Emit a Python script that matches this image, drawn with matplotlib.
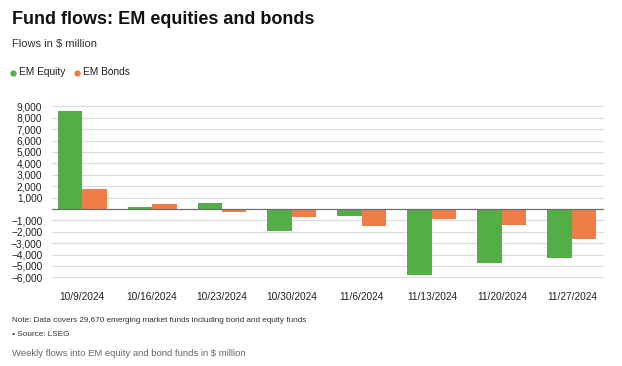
import numpy as np
import matplotlib.pyplot as plt
from matplotlib.ticker import FuncFormatter
from matplotlib.lines import Line2D

plt.rcParams['font.family'] = ['Liberation Sans', 'DejaVu Sans']

# Weekly flows in $ million
weeks = ['10/9/2024', '10/16/2024', '10/23/2024', '10/30/2024',
         '11/6/2024', '11/13/2024', '11/20/2024', '11/27/2024']
em_equity = [8600, 200, 550, -1900, -590, -5830, -4720, -4310]
em_bonds = [1770, 440, -300, -730, -1520, -910, -1430, -2620]
yticks = [-6000, -5000, -4000, -3000, -2000, -1000,
          1000, 2000, 3000, 4000, 5000, 6000, 7000, 8000, 9000]

green = '#54ae47'
orange = '#ee7d47'

fig = plt.figure(figsize=(6.22, 3.66), dpi=100)
ax = fig.add_axes([52 / 622, 1 - 284 / 366, (604 - 52) / 622, (284 - 100) / 366])

x = np.arange(len(weeks))
w = 0.35
ax.bar(x - w / 2, em_equity, w, color=green, zorder=3)
ax.bar(x + w / 2, em_bonds, w, color=orange, zorder=3)

ax.set_xlim(-0.43, len(weeks) - 0.54)
ax.set_ylim(-6580, 9560)
ax.set_yticks(yticks)
ax.yaxis.set_major_formatter(FuncFormatter(
    lambda v, p: f'{int(v):,}'.replace('-', '\u2212')))
ax.grid(axis='y', color='#dcdcdc', linewidth=0.9, zorder=0)
ax.axhline(0, color='#6e6e6e', linewidth=0.9, zorder=4)
ax.set_xticks(x)
ax.set_xticklabels(weeks)
ax.tick_params(axis='both', length=0, labelsize=7.3, colors='#222222')
ax.tick_params(axis='x', pad=6)
ax.tick_params(axis='y', pad=7)
for s in ax.spines.values():
    s.set_visible(False)

# titles and legend
fig.text(12 / 622, 1 - 19 / 366, 'Fund flows: EM equities and bonds',
         fontsize=13, fontweight='bold', va='center', color='#111111')
fig.text(12 / 622, 1 - 44 / 366, 'Flows in $ million', fontsize=8,
         va='center', color='#333333')
for px, col, lab in [(13, green, 'EM Equity'), (77, orange, 'EM Bonds')]:
    fig.add_artist(Line2D([px / 622], [1 - 73 / 366], marker='o', markersize=3.5,
                          color=col, transform=fig.transFigure))
    fig.text((px + 6) / 622, 1 - 72 / 366, lab, fontsize=7.3, va='center', color='#222222')

# footnotes
fig.text(12 / 622, 1 - 321 / 366,
         'Note: Data covers 29,670 emerging market funds including bond and equity funds',
         fontsize=5.9, va='center', color='#333333')
fig.text(12 / 622, 1 - 334 / 366, '\u2022 Source: LSEG', fontsize=5.9,
         va='center', color='#333333')
fig.text(12 / 622, 1 - 353 / 366, 'Weekly flows into EM equity and bond funds in $ million',
         fontsize=6.8, va='center', color='#666666')

fig.savefig('out.png', dpi=100)
